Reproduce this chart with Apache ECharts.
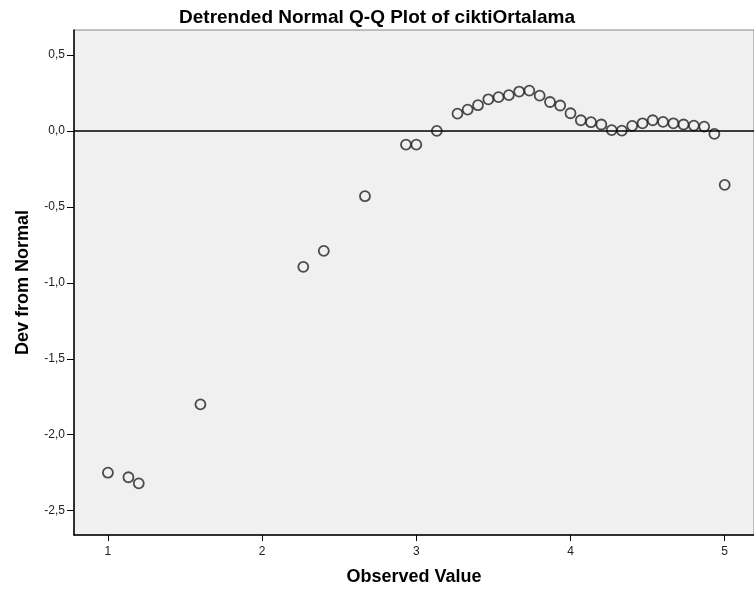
<!DOCTYPE html>
<html>
<head>
<meta charset="utf-8">
<script src="https://cdn.jsdelivr.net/npm/echarts@6/dist/echarts.min.js"></script>
<style>
  html, body { margin: 0; padding: 0; background: #fff; }
  #main { width: 754px; height: 594px; }
</style>
</head>
<body>
<div id="main"></div>
<script>
// observed values (steps of 1/15) and their deviation from normal
var observed = [1.0, 1.133, 1.2, 1.6, 2.267, 2.4, 2.667, 2.933, 3.0, 3.133,
  3.267, 3.333, 3.4, 3.467, 3.533, 3.6, 3.667, 3.733, 3.8, 3.867,
  3.933, 4.0, 4.067, 4.133, 4.2, 4.267, 4.333, 4.4, 4.467, 4.533,
  4.6, 4.667, 4.733, 4.8, 4.867, 4.933, 5.0];
var devFromNormal = [-2.25, -2.28, -2.32, -1.80, -0.895, -0.79, -0.43, -0.09, -0.09, 0.0,
  0.114, 0.14, 0.169, 0.208, 0.222, 0.235, 0.259, 0.265, 0.232, 0.19,
  0.167, 0.116, 0.07, 0.057, 0.042, 0.005, 0.002, 0.033, 0.05, 0.07,
  0.059, 0.05, 0.042, 0.035, 0.028, -0.02, -0.355];
var xTicks = [1, 2, 3, 4, 5];
var yTicks = [-2.5, -2.0, -1.5, -1.0, -0.5, 0.0, 0.5];

var myChart = echarts.init(document.getElementById('main'));

var points = observed.map(function (x, i) { return [x, devFromNormal[i]]; });

function commaFmt(v) {
  return v.toFixed(1).replace('.', ',');
}

var option = {
  backgroundColor: '#fff',
  animation: false,
  title: {
    text: 'Detrended Normal Q-Q Plot of ciktiOrtalama',
    left: 'center',
    top: 3,
    textStyle: { fontFamily: 'Liberation Sans', fontSize: 19, fontWeight: 'bold', color: '#000' }
  },
  grid: {
    left: 74, right: 0, top: 30, bottom: 59,
    show: true,
    backgroundColor: '#f0f0f0',
    borderColor: '#888',
    borderWidth: 1
  },
  xAxis: {
    type: 'value',
    min: 0.78,
    max: 5.19,
    name: 'Observed Value',
    nameLocation: 'middle',
    nameGap: 33,
    nameTextStyle: { fontFamily: 'Liberation Sans', fontSize: 18, fontWeight: 'bold', color: '#000' },
    splitLine: { show: false },
    axisLine: { onZero: false, lineStyle: { color: '#000', width: 1.5 } },
    axisTick: { customValues: xTicks, length: 6, lineStyle: { color: '#000' } },
    axisLabel: {
      customValues: xTicks, margin: 11,
      fontFamily: 'Liberation Sans', fontSize: 12, color: '#222'
    }
  },
  yAxis: {
    type: 'value',
    min: -2.66,
    max: 0.664,
    name: 'Dev from Normal',
    nameLocation: 'middle',
    nameGap: 42,
    nameRotate: 90,
    nameTextStyle: { fontFamily: 'Liberation Sans', fontSize: 18, fontWeight: 'bold', color: '#000' },
    splitLine: { show: false },
    axisLine: { show: true, onZero: false, lineStyle: { color: '#000', width: 1.5 } },
    axisTick: { show: true, customValues: yTicks, length: 7, lineStyle: { color: '#000' } },
    axisLabel: {
      customValues: yTicks, margin: 9,
      fontFamily: 'Liberation Sans', fontSize: 12, color: '#222',
      formatter: commaFmt
    }
  },
  series: [
    {
      type: 'scatter',
      data: points,
      symbol: 'circle',
      symbolSize: 10,
      itemStyle: { color: 'rgba(0,0,0,0)', borderColor: '#222', borderWidth: 1.8 },
      markLine: {
        silent: true,
        symbol: 'none',
        label: { show: false },
        lineStyle: { color: '#000', width: 1.5, type: 'solid' },
        data: [{ yAxis: 0 }]
      }
    }
  ]
};

option && myChart.setOption(option);
</script>
</body>
</html>
